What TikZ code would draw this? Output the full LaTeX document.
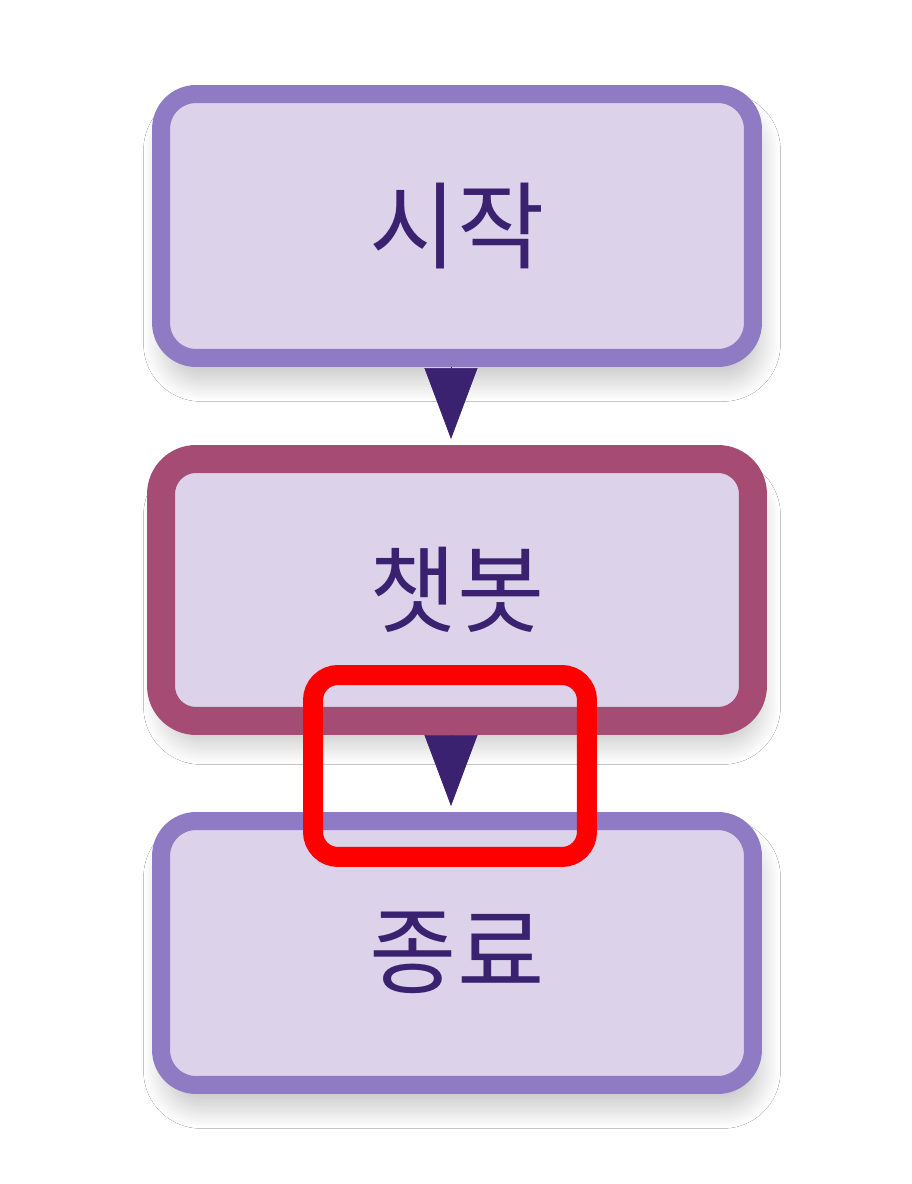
\documentclass[tikz,border=0pt]{standalone}
\usepackage{fontspec}
\usepackage{xcolor}
\usepackage{tikz}
\usetikzlibrary{arrows.meta,shadows.blur}

\newfontfamily\kr{Noto Sans CJK KR}

\definecolor{boxfill}{HTML}{DCD3EA}
\definecolor{boxline}{HTML}{8E7BC4}
\definecolor{botline}{HTML}{A64B74}
\definecolor{inkpurple}{HTML}{3A2270}

\begin{document}
\begin{tikzpicture}[x=0.02cm,y=0.02cm,
		box/.style={draw=boxline, fill=boxfill, line width=0.36cm, rounded corners=0.7cm,
			minimum width=11.84cm, minimum height=5.28cm, text=inkpurple,
			font=\kr\fontsize{54}{60}\selectfont,
			blur shadow={shadow xshift=0.1cm, shadow yshift=-0.42cm, shadow blur radius=0.45cm,
				shadow blur steps=25, shadow opacity=25}},
		activebox/.style={box, draw=botline, line width=0.56cm, minimum height=5.24cm},
		flowarrow/.style={draw=inkpurple, line width=0.4pt, shorten >=0.12cm,
			-{Triangle[length=1.42cm,width=1.06cm,fill=inkpurple]}},
		highlightbox/.style={draw=red, line width=0.4cm, rounded corners=0.5cm,
			minimum width=5.48cm, minimum height=3.64cm}]

			\useasboundingbox [fill=white] (0,0) rectangle (912,1184);

			\node [box] (start) at (457,958) {시작};
			\node [activebox] (chatbot) at (457,594) {챗봇};
			\node [box] (finish) at (457,231) {종료};

			\draw [flowarrow] ([xshift=-0.12cm]start.south) -- ([xshift=-0.12cm]chatbot.north);
			\draw [flowarrow] ([xshift=-0.12cm]chatbot.south) -- ([xshift=-0.12cm]finish.north);

			\node [highlightbox] (focus) at (450,418) {};

		\end{tikzpicture}
\end{document}
